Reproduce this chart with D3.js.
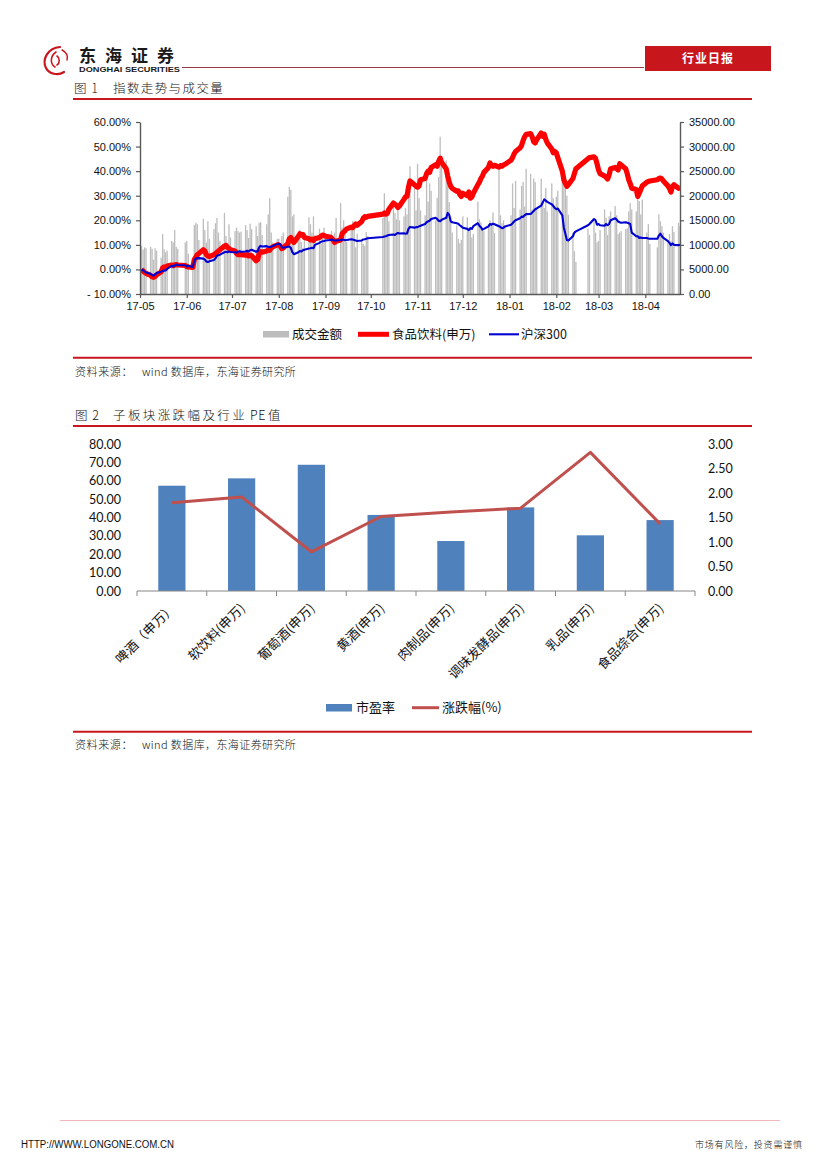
<!DOCTYPE html>
<html><head><meta charset="utf-8">
<script src="https://cdn.jsdelivr.net/npm/d3@7/dist/d3.min.js"></script>
<style>body{margin:0;background:#fff}svg{display:block}</style>
</head><body>
<svg id="page" width="827" height="1170"></svg>
<script>
// ---------------- Chart 1 data ----------------
const tradeDays = {
  "2017-05":[2,3,4,5,8,9,10,11,12,15,16,17,18,19,22,23,24,25,26,31],
  "2017-06":[1,2,5,6,7,8,9,12,13,14,15,16,19,20,21,22,23,26,27,28,29,30],
  "2017-07":[3,4,5,6,7,10,11,12,13,14,17,18,19,20,21,24,25,26,27,28,31],
  "2017-08":[1,2,3,4,7,8,9,10,11,14,15,16,17,18,21,22,23,24,25,28,29,30,31],
  "2017-09":[1,4,5,6,7,8,11,12,13,14,15,18,19,20,21,22,25,26,27,28,29],
  "2017-10":[9,10,11,12,13,16,17,18,19,20,23,24,25,26,27,30,31],
  "2017-11":[1,2,3,6,7,8,9,10,13,14,15,16,17,20,21,22,23,24,27,28,29,30],
  "2017-12":[1,4,5,6,7,8,11,12,13,14,15,18,19,20,21,22,25,26,27,28,29],
  "2018-01":[2,3,4,5,8,9,10,11,12,15,16,17,18,19,22,23,24,25,26,29,30,31],
  "2018-02":[1,2,5,6,7,8,9,12,13,14,22,23,26,27,28],
  "2018-03":[1,2,5,6,7,8,9,12,13,14,15,16,19,20,21,22,23,26,27,28,29,30],
  "2018-04":[2,3,4,9,10,11,12,13,16,17,18,19,20,23,24]
};
// 成交金额 (right axis)
const turnover = [
  9800,9000,9500,9300,9600,9200,7000,9300,8800,7400,12200,9100,8500,8800,10800,10500,13000,9600,9200,10500,
  10800,8200,6500,14000,14500,14200,11000,15300,13000,10500,14800,11200,13200,14400,15500,12500,10800,16500,11800,9600,14200,11500,
  12800,13500,12800,12500,12700,14000,13000,11400,14300,13200,13800,11800,14500,14600,12000,14200,16200,19500,12500,10500,11200,
  11300,10200,11800,12500,19800,21800,21200,15800,16200,12400,13000,10600,9400,11800,15600,14200,12500,15800,12000,13300,10200,11600,13500,
  12400,12000,12800,10800,12500,15500,18500,13500,15000,12000,10600,13000,14800,13600,9500,12300,11000,10200,9800,12600,11800,
  15500,20500,15800,17000,14800,19000,16500,15200,17800,15000,15800,17500,16200,21000,26000,21500,17000,
  26500,19500,17000,16000,23500,18800,22500,21000,15000,19600,23800,32000,26500,27200,22500,18700,15800,12500,14000,11200,10300,11000,
  15800,15600,12800,13500,11500,12200,18800,15200,14600,13000,12800,14200,15000,14500,16600,12400,26000,16000,14400,15000,13800,
  16000,22500,17500,23000,17200,22000,22800,17800,25500,24500,17200,23500,22800,17200,23500,18500,17500,21600,16800,22500,19500,18000,
  19800,21000,23300,22200,21500,20000,16100,12500,8700,6500,13300,12000,14800,12500,10500,
  10800,13000,17200,15500,12000,15800,16800,17900,16000,12200,12500,12800,13200,13400,16800,18500,17200,16800,19500,18900,16200,19200,
  12500,14200,10200,9500,16200,14800,13800,12500,11000,12200,10800,13800,12600,14500,13800
];
// 食品饮料(申万) cumulative change, %
const foodBev = [
  0.0,-0.6,-1.2,-1.6,-2.4,-3.0,-3.2,-2.8,-2.2,-1.0,0.6,1.0,0.8,1.4,1.8,1.5,1.9,2.0,1.8,1.6,
  1.2,1.0,0.8,4.0,5.0,6.0,6.5,8.0,7.5,6.0,5.5,5.2,6.0,6.5,7.0,7.5,8.0,9.5,9.8,9.0,8.5,8.0,
  7.5,6.5,6.0,6.2,6.0,5.8,6.0,5.5,5.8,5.6,3.5,4.0,6.5,7.2,7.0,7.5,8.0,7.8,8.8,9.2,10.0,
  10.0,9.5,8.5,8.8,10.5,12.5,13.0,12.0,11.0,13.5,14.5,14.0,14.2,13.0,12.5,12.0,12.3,11.8,12.5,13.0,13.5,14.0,13.8,
  13.5,13.2,12.8,12.0,11.0,11.5,12.0,14.5,15.2,15.8,16.5,17.2,17.0,17.8,18.5,18.0,19.5,20.8,21.5,21.2,21.6,
  22.5,23.0,22.5,22.8,24.5,27.0,26.5,26.0,25.2,25.8,28.5,29.5,29.8,33.5,36.0,34.5,33.8,
  33.5,34.0,36.5,37.0,39.0,40.0,39.5,41.5,42.6,42.0,44.0,45.3,43.5,41.0,38.0,35.5,33.8,33.0,31.8,32.0,30.5,29.7,
  31.0,30.0,31.5,29.0,29.5,31.0,34.5,35.5,37.0,38.0,39.5,41.5,43.3,42.5,42.0,42.4,41.6,42.2,42.0,42.5,42.8,
  44.5,45.5,47.0,48.0,49.5,50.5,52.5,54.0,55.0,55.3,54.0,52.0,51.5,52.8,55.5,54.2,55.0,53.0,51.5,49.0,47.5,48.0,
  47.5,45.5,40.0,36.5,35.0,33.8,34.5,37.0,39.0,41.0,45.0,45.5,45.8,45.2,43.0,
  40.5,39.0,38.0,37.5,36.8,38.5,41.0,41.5,41.0,40.5,43.0,42.5,41.0,39.0,36.5,35.0,33.0,32.5,29.7,31.0,32.5,34.0,
  35.5,35.8,36.0,36.5,37.0,37.2,36.8,36.0,34.0,33.0,31.5,33.8,34.5,33.0,33.2
];
// 沪深300 cumulative change, %
const hs300 = [
  0.0,-0.4,-0.9,-1.2,-1.8,-2.3,-2.5,-2.0,-1.5,-0.9,-0.6,-0.5,-0.4,0.2,1.5,1.2,1.6,2.0,1.8,1.7,
  1.2,1.5,1.0,3.5,4.5,4.5,4.6,4.4,4.0,3.2,3.0,3.3,3.8,4.5,5.5,5.8,6.0,7.0,7.2,7.0,7.3,7.1,
  7.0,6.8,7.2,7.4,7.2,7.3,7.6,7.3,7.8,8.0,7.2,7.5,9.0,9.6,9.3,9.5,9.2,9.0,9.3,9.5,10.3,
  10.5,10.2,9.0,8.8,9.2,9.3,8.8,7.0,6.2,7.0,7.5,7.3,7.8,8.0,8.5,8.6,8.8,8.6,10.0,10.8,11.2,11.5,11.6,
  11.8,12.0,12.2,12.0,11.7,11.8,12.0,12.2,12.1,11.9,12.0,12.3,12.2,12.0,11.8,11.6,11.8,12.2,12.3,12.5,12.7,
  13.2,13.4,13.5,13.8,14.0,14.2,14.0,14.5,14.8,14.6,14.7,14.5,14.6,16.5,17.3,17.0,17.2,
  17.2,17.5,17.8,18.5,19.2,19.6,19.8,20.5,21.0,20.5,19.8,19.6,20.2,21.0,23.0,22.2,19.6,19.2,18.8,18.6,18.0,17.5,
  17.0,16.5,16.0,16.8,16.5,17.6,18.8,17.8,17.2,16.2,16.5,17.5,18.5,18.2,18.6,18.4,17.6,17.2,16.8,17.0,17.5,
  18.2,18.8,19.5,20.0,20.8,21.5,21.4,22.0,22.5,22.6,23.2,23.8,24.5,24.8,26.0,27.2,28.5,28.0,27.5,26.5,25.8,25.0,
  24.5,24.8,22.0,17.0,14.5,12.0,11.8,13.5,15.0,15.5,18.0,18.5,20.5,20.0,18.2,
  18.5,18.0,17.8,18.5,18.0,18.5,20.0,20.8,20.3,19.5,19.2,19.0,19.2,19.0,18.8,18.5,15.0,13.5,13.5,12.8,13.0,12.8,
  12.8,12.6,12.5,12.5,13.8,14.6,13.5,12.8,11.5,10.8,9.9,10.6,10.0,9.9,10.0
];
const monthLabels = ["17-05","17-06","17-07","17-08","17-09","17-10","17-11","17-12","18-01","18-02","18-03","18-04"];
const leftTicks = [-10,0,10,20,30,40,50,60];
const leftTickLabels = ["- 10.00%","0.00%","10.00%","20.00%","30.00%","40.00%","50.00%","60.00%"];
const rightTicks = [0,5000,10000,15000,20000,25000,30000,35000];
const rightTickLabels = ["0.00","5000.00","10000.00","15000.00","20000.00","25000.00","30000.00","35000.00"];
const legend1 = ["成交金额","食品饮料(申万)","沪深300"];

// ---------------- Chart 2 data ----------------
const sectors = ["啤酒（申万）","软饮料(申万)","葡萄酒(申万)","黄酒(申万)","肉制品(申万)","调味发酵品(申万)","乳品(申万)","食品综合(申万)"];
const peValues = [57.3,61.3,68.7,41.4,27.2,45.5,30.3,38.6];
const changeValues = [1.80,1.92,0.80,1.52,1.61,1.69,2.83,1.37];
const peTicks = [0,10,20,30,40,50,60,70,80];
const chgTicks = [0,0.5,1,1.5,2,2.5,3];
const legend2 = ["市盈率","涨跌幅(%)"];

// ---------------- page ----------------
const svg = d3.select("#page");
const CJK = "'Noto Sans CJK SC','Noto Sans',sans-serif";
const SANS = "'Liberation Sans',Arial,sans-serif";
const RED = "#c8161d";

// header
const logo = svg.append("g").attr("fill","none").attr("stroke","#c8161d").attr("stroke-linecap","round");
logo.append("path").attr("d","M60,47 C47,48 42,60 46,68 C49,74 58,76 64,72").attr("stroke-width",2.2);
logo.append("path").attr("d","M56,52 C50,56 50,64 55,67 M57,56 C60,58 60,63 57,65").attr("stroke-width",1.6);
logo.append("path").attr("d","M62,50 C66,52 68,56 67,60").attr("stroke-width",1.4);
svg.append("text").attr("x",79).attr("y",62).attr("font-family",CJK).attr("font-weight",700)
  .attr("font-size",17).attr("letter-spacing",9).attr("fill","#1a1a1a").text("东海证券");
svg.append("text").attr("x",79).attr("y",72).attr("font-family",SANS).attr("font-weight",700)
  .attr("font-size",7).attr("textLength",101).attr("lengthAdjust","spacingAndGlyphs").attr("fill","#1a1a1a").text("DONGHAI SECURITIES");
svg.append("line").attr("x1",182).attr("x2",644).attr("y1",67.5).attr("y2",67.5).attr("stroke","#9a3a48").attr("stroke-width",1.2);
svg.append("rect").attr("x",645).attr("y",46).attr("width",126).attr("height",25).attr("fill",RED);
svg.append("text").attr("x",708).attr("y",63).attr("text-anchor","middle").attr("font-family",CJK).attr("font-weight",700)
  .attr("font-size",12).attr("letter-spacing",1).attr("fill","#fff").text("行业日报");

function titleText(x,y,t,ls){
  svg.append("text").attr("x",x).attr("y",y).attr("font-family",CJK).attr("font-weight",300)
    .attr("font-size",12.5).attr("letter-spacing",ls).attr("fill","#111").text(t);
}
function redRule(y){
  svg.append("line").attr("x1",73).attr("x2",752).attr("y1",y).attr("y2",y).attr("stroke",RED).attr("stroke-width",2);
}
function source(y){
  svg.append("text").attr("x",75).attr("y",y).attr("font-family",CJK).attr("font-weight",300)
    .attr("font-size",11).attr("letter-spacing",0.6).attr("fill","#111").text("资料来源：");
  svg.append("text").attr("x",142).attr("y",y).attr("font-family",CJK).attr("font-weight",300)
    .attr("font-size",11).attr("letter-spacing",0.4).attr("fill","#111").text("wind 数据库，东海证券研究所");
}

titleText(74,92.5,"图 1",1);
titleText(113,92.5,"指数走势与成交量",1.4);
redRule(99);

// ---------------- Chart 1 ----------------
const dates = [];
Object.keys(tradeDays).forEach(m => {
  const [yy, mm] = m.split("-").map(Number);
  tradeDays[m].forEach(d => dates.push(new Date(yy, mm-1, d)));
});
const rows = dates.map((d,i) => ({date:d, vol:turnover[i], food:foodBev[i], hs:hs300[i]}));

const x1 = d3.scaleTime().domain([new Date(2017,4,1), new Date(2018,3,24)]).range([140,680]);
const yL = d3.scaleLinear().domain([-10,60]).range([294,122]);
const yR = d3.scaleLinear().domain([0,35000]).range([294,122]);
const c1 = svg.append("g");

c1.append("g").selectAll("rect").data(rows).join("rect")
  .attr("x", d => x1(d.date) - 0.65).attr("width", 1.3)
  .attr("y", d => yR(d.vol)).attr("height", d => yR(0) - yR(d.vol))
  .attr("fill", "#bdbdbd");

const lineFood = d3.line().x(d => x1(d.date)).y(d => yL(d.food));
const lineHs = d3.line().x(d => x1(d.date)).y(d => yL(d.hs));
c1.append("path").datum(rows).attr("d", lineFood).attr("fill","none").attr("stroke","#ff0000")
  .attr("stroke-width",5.2).attr("stroke-linejoin","round");
c1.append("path").datum(rows).attr("d", lineHs).attr("fill","none").attr("stroke","#0000d0")
  .attr("stroke-width",2.1).attr("stroke-linejoin","round");

function styleAxis(g, size){
  g.select(".domain").attr("stroke","#595959").attr("stroke-width",1.4);
  g.selectAll(".tick line").attr("stroke","#595959").attr("stroke-width",1.2);
  g.selectAll("text").attr("font-family",SANS).attr("font-size",size).attr("fill","#111");
}
const monthDates = monthLabels.map(s => new Date(2000 + +s.slice(0,2), +s.slice(3)-1, 1));
const ax1 = c1.append("g").attr("transform","translate(0,294)")
  .call(d3.axisBottom(x1).tickValues(monthDates).tickFormat((d,i) => monthLabels[i]).tickSize(4).tickPadding(4).tickSizeOuter(0));
styleAxis(ax1, 11);
const ayL = c1.append("g").attr("transform","translate(140,0)")
  .call(d3.axisLeft(yL).tickValues(leftTicks).tickFormat((d,i) => leftTickLabels[i]).tickSize(4).tickPadding(5).tickSizeOuter(0));
styleAxis(ayL, 11);
const ayR = c1.append("g").attr("transform","translate(680,0)")
  .call(d3.axisRight(yR).tickValues(rightTicks).tickFormat((d,i) => rightTickLabels[i]).tickSize(4).tickPadding(5).tickSizeOuter(0));
styleAxis(ayR, 11);

// legend 1
const lg1 = svg.append("g").attr("font-family",CJK).attr("font-size",12.5).attr("fill","#111");
lg1.append("rect").attr("x",263).attr("y",331).attr("width",26).attr("height",6.5).attr("fill","#bdbdbd");
lg1.append("text").attr("x",292).attr("y",338.5).text(legend1[0]);
lg1.append("line").attr("x1",358).attr("x2",389).attr("y1",334.3).attr("y2",334.3).attr("stroke","#ff0000").attr("stroke-width",5);
lg1.append("text").attr("x",392).attr("y",338.5).text(legend1[1]);
lg1.append("line").attr("x1",489).attr("x2",519).attr("y1",334.3).attr("y2",334.3).attr("stroke","#0000d0").attr("stroke-width",2.1);
lg1.append("text").attr("x",521).attr("y",338.5).text(legend1[2]);

redRule(357.7);
source(376);

// ---------------- Chart 2 ----------------
titleText(75,419.5,"图 2",1);
titleText(113,419.5,"子板块涨跌幅及行业",2.4);
titleText(250,419.5,"PE",0.5);
titleText(268,419.5,"值",0);
redRule(426);

const x2 = d3.scaleBand().domain(sectors).range([137,695]).paddingInner(0.61).paddingOuter(0.305);
const y2L = d3.scaleLinear().domain([0,80]).range([591,444]);
const y2R = d3.scaleLinear().domain([0,3]).range([591,444]);
const c2 = svg.append("g");

c2.append("g").selectAll("rect").data(sectors).join("rect")
  .attr("x", d => x2(d)).attr("width", x2.bandwidth())
  .attr("y", (d,i) => y2L(peValues[i])).attr("height", (d,i) => y2L(0) - y2L(peValues[i]))
  .attr("fill","#4f81bd");

const line2 = d3.line().x((d,i) => x2(sectors[i]) + x2.bandwidth()/2).y(d => y2R(d));
c2.append("path").datum(changeValues).attr("d", line2).attr("fill","none")
  .attr("stroke","#c0504d").attr("stroke-width",3).attr("stroke-linejoin","round");

// bottom axis with boundary ticks
c2.append("line").attr("x1",137).attr("x2",695).attr("y1",591).attr("y2",591).attr("stroke","#868686").attr("stroke-width",1);
const step = x2.step();
c2.append("g").selectAll("line").data(sectors.concat(["end"])).join("line")
  .attr("x1",(d,i) => 137 + i*step).attr("x2",(d,i) => 137 + i*step)
  .attr("y1",591).attr("y2",596).attr("stroke","#868686").attr("stroke-width",1);

const LAT = "Lato,'Open Sans',sans-serif";
c2.append("g").selectAll("text").data(peTicks).join("text")
  .attr("x",121).attr("y", d => y2L(d)).attr("dy","0.36em").attr("text-anchor","end")
  .attr("font-family",LAT).attr("font-size",12.5).attr("fill","#111").text(d => d.toFixed(2));
c2.append("g").selectAll("text").data(chgTicks).join("text")
  .attr("x",708).attr("y", d => y2R(d)).attr("dy","0.36em").attr("text-anchor","start")
  .attr("font-family",LAT).attr("font-size",12.5).attr("fill","#111").text(d => d.toFixed(2));

c2.append("g").selectAll("text").data(sectors).join("text")
  .attr("transform", d => `translate(${x2(d) + x2.bandwidth()/2 + 1},${606}) rotate(-45)`)
  .attr("text-anchor","end").attr("dy","0.35em")
  .attr("font-family",CJK).attr("font-size",13).attr("fill","#111").text(d => d);

// legend 2
const lg2 = svg.append("g").attr("font-family",CJK).attr("font-size",13).attr("fill","#111");
lg2.append("rect").attr("x",326).attr("y",704).attr("width",26).attr("height",7.5).attr("fill","#4f81bd");
lg2.append("text").attr("x",356).attr("y",712.3).text(legend2[0]);
lg2.append("line").attr("x1",412).attr("x2",439).attr("y1",707.7).attr("y2",707.7).attr("stroke","#c0504d").attr("stroke-width",3);
lg2.append("text").attr("x",442).attr("y",712.3).text(legend2[1]);

redRule(731.7);
source(749);

// footer
svg.append("line").attr("x1",60).attr("x2",780).attr("y1",1120.5).attr("y2",1120.5).attr("stroke","#f0b8b8").attr("stroke-width",1);
svg.append("text").attr("x",21).attr("y",1147.5).attr("font-family",SANS).attr("font-size",10)
  .attr("textLength",153).attr("lengthAdjust","spacingAndGlyphs").attr("fill","#111").text("HTTP://WWW.LONGONE.COM.CN");
svg.append("text").attr("x",695).attr("y",1147.5).attr("font-family",CJK).attr("font-weight",300).attr("font-size",9)
  .attr("letter-spacing",0.8).attr("fill","#111").text("市场有风险，投资需谨慎");
</script>
</body></html>
